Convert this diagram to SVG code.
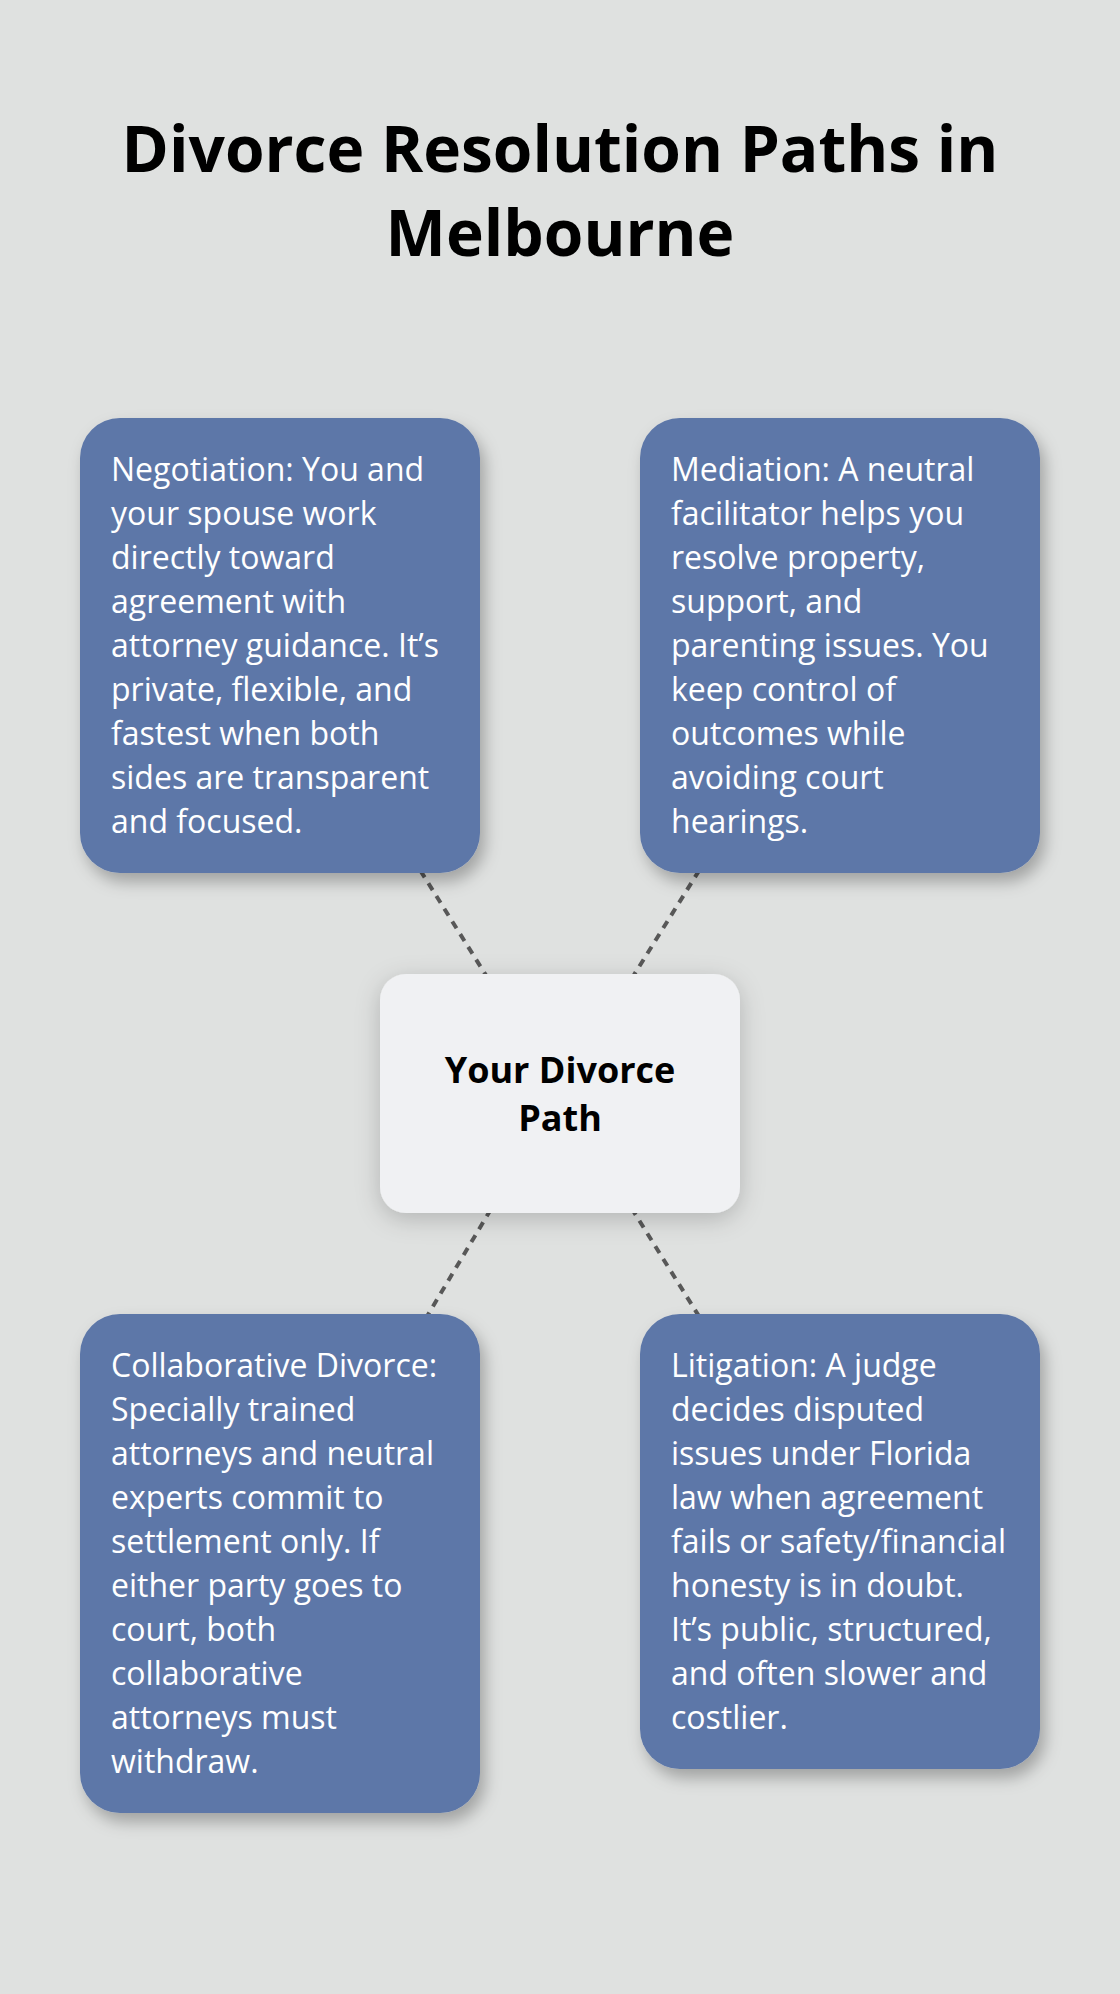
<svg xmlns="http://www.w3.org/2000/svg" width="1120" height="1994" viewBox="0 0 1120 1994">
<style>
.bg{fill:#DFE1E0}
.title{font-family:"Open Sans","Noto Sans",sans-serif;font-weight:700;font-size:64px;fill:#000;text-anchor:middle}
.card{fill:#5D77A8;filter:url(#sh)}
.hub{fill:#F0F1F3;filter:url(#sh2)}
.body{font-family:"Open Sans","Noto Sans",sans-serif;font-size:32px;fill:#FFFFFF}
.hubt{font-family:"Open Sans","Noto Sans",sans-serif;font-weight:700;font-size:36px;fill:#000;text-anchor:middle}
.link{stroke:#585858;stroke-width:4;stroke-dasharray:8 7;fill:none}
</style>
<defs>
<filter id="sh" x="-20%" y="-20%" width="140%" height="140%">
<feDropShadow dx="5" dy="9" stdDeviation="8" flood-color="#000" flood-opacity="0.28"/>
</filter>
<filter id="sh2" x="-20%" y="-20%" width="140%" height="140%">
<feDropShadow dx="0" dy="6" stdDeviation="12" flood-color="#000" flood-opacity="0.2"/>
</filter>
</defs>
<rect class="bg" x="0" y="0" width="1120" height="1994"/>
<g id="title">
<text class="title" x="560" y="172">Divorce Resolution Paths in</text>
<text class="title" x="560" y="256">Melbourne</text>
</g>
<g id="connectors">
<line class="link" x1="560" y1="1093.5" x2="279.5" y2="645.5"/>
<line class="link" x1="560" y1="1093.5" x2="839.5" y2="645.5"/>
<line class="link" x1="560" y1="1093.5" x2="279.5" y2="1563.5"/>
<line class="link" x1="560" y1="1093.5" x2="839.5" y2="1541.5"/>
</g>
<g id="negotiation">
<rect class="card" x="80" y="418" width="400" height="455" rx="40"/>
<text class="body">
<tspan x="111" y="481">Negotiation: You and</tspan>
<tspan x="111" y="525">your spouse work</tspan>
<tspan x="111" y="569">directly toward</tspan>
<tspan x="111" y="613">agreement with</tspan>
<tspan x="111" y="657">attorney guidance. It’s</tspan>
<tspan x="111" y="701">private, flexible, and</tspan>
<tspan x="111" y="745">fastest when both</tspan>
<tspan x="111" y="789">sides are transparent</tspan>
<tspan x="111" y="833">and focused.</tspan>
</text>
</g>
<g id="mediation">
<rect class="card" x="640" y="418" width="400" height="455" rx="40"/>
<text class="body">
<tspan x="671" y="481">Mediation: A neutral</tspan>
<tspan x="671" y="525">facilitator helps you</tspan>
<tspan x="671" y="569">resolve property,</tspan>
<tspan x="671" y="613">support, and</tspan>
<tspan x="671" y="657">parenting issues. You</tspan>
<tspan x="671" y="701">keep control of</tspan>
<tspan x="671" y="745">outcomes while</tspan>
<tspan x="671" y="789">avoiding court</tspan>
<tspan x="671" y="833">hearings.</tspan>
</text>
</g>
<g id="hub">
<rect class="hub" x="380" y="974" width="360" height="239" rx="26"/>
<text class="hubt" x="560" y="1083">Your Divorce</text>
<text class="hubt" x="560" y="1131">Path</text>
</g>
<g id="collaborative">
<rect class="card" x="80" y="1314" width="400" height="499" rx="40"/>
<text class="body">
<tspan x="111" y="1377">Collaborative Divorce:</tspan>
<tspan x="111" y="1421">Specially trained</tspan>
<tspan x="111" y="1465">attorneys and neutral</tspan>
<tspan x="111" y="1509">experts commit to</tspan>
<tspan x="111" y="1553">settlement only. If</tspan>
<tspan x="111" y="1597">either party goes to</tspan>
<tspan x="111" y="1641">court, both</tspan>
<tspan x="111" y="1685">collaborative</tspan>
<tspan x="111" y="1729">attorneys must</tspan>
<tspan x="111" y="1773">withdraw.</tspan>
</text>
</g>
<g id="litigation">
<rect class="card" x="640" y="1314" width="400" height="455" rx="40"/>
<text class="body">
<tspan x="671" y="1377">Litigation: A judge</tspan>
<tspan x="671" y="1421">decides disputed</tspan>
<tspan x="671" y="1465">issues under Florida</tspan>
<tspan x="671" y="1509">law when agreement</tspan>
<tspan x="671" y="1553">fails or safety/financial</tspan>
<tspan x="671" y="1597">honesty is in doubt.</tspan>
<tspan x="671" y="1641">It’s public, structured,</tspan>
<tspan x="671" y="1685">and often slower and</tspan>
<tspan x="671" y="1729">costlier.</tspan>
</text>
</g>
</svg>
